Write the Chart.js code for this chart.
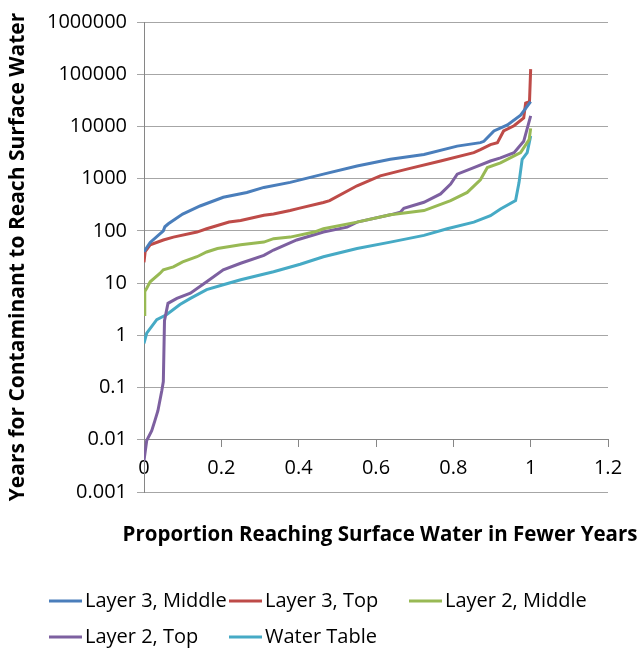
<!DOCTYPE html>
<html>
<head>
<meta charset="utf-8">
<script src="https://cdn.jsdelivr.net/npm/chart.js@4/dist/chart.umd.min.js"></script>
<style>
  html, body { margin: 0; padding: 0; background: #ffffff; }
  #wrap { width: 641px; height: 649px; }
</style>
</head>
<body>
<div id="wrap"><canvas id="c" width="641" height="649"></canvas></div>
<script>
// ---- Data ----
const seriesNames = ["Layer 3, Middle", "Layer 3, Top", "Layer 2, Middle", "Layer 2, Top", "Water Table"];
const seriesColors = ["#4A7EBB", "#BE4B48", "#98B954", "#7D60A0", "#46AAC5"];

const l3MiddleX = [0, 0.016, 0.05, 0.054, 0.063, 0.10, 0.145, 0.205, 0.266, 0.31, 0.378, 0.464, 0.551, 0.637, 0.724, 0.81, 0.87, 0.879, 0.905, 0.94, 0.974, 1.0];
const l3MiddleY = [40, 60, 100, 120, 137, 210, 300, 440, 545, 680, 850, 1220, 1750, 2350, 2900, 4200, 4900, 5200, 8200, 10700, 16500, 30000];

const l3TopX = [0, 0.003, 0.016, 0.05, 0.076, 0.137, 0.162, 0.22, 0.25, 0.31, 0.335, 0.378, 0.40, 0.464, 0.48, 0.551, 0.611, 0.68, 0.767, 0.853, 0.87, 0.896, 0.914, 0.93, 0.957, 0.982, 0.987, 0.997, 1.0];
const l3TopY = [25, 40, 54, 67, 76, 95, 110, 148, 158, 200, 211, 245, 270, 350, 380, 730, 1130, 1520, 2180, 3150, 3600, 4500, 4900, 8200, 10300, 14500, 28000, 30000, 125000];

const l2MiddleX = [0, 0.002, 0.007, 0.016, 0.041, 0.05, 0.076, 0.10, 0.137, 0.162, 0.19, 0.25, 0.31, 0.335, 0.378, 0.44, 0.464, 0.551, 0.637, 0.724, 0.793, 0.836, 0.87, 0.888, 0.922, 0.974, 0.996, 1.0];
const l2MiddleY = [2.5, 6.9, 8, 10.6, 15.3, 18, 20.5, 25.5, 32, 39.5, 46, 54.5, 61, 71, 76, 95, 110, 147, 203, 245, 380, 545, 950, 1630, 2000, 3150, 5600, 9200];

const l2TopX = [0, 0.007, 0.02, 0.028, 0.036, 0.046, 0.05, 0.053, 0.062, 0.085, 0.12, 0.162, 0.205, 0.25, 0.31, 0.335, 0.395, 0.464, 0.525, 0.551, 0.637, 0.663, 0.672, 0.724, 0.767, 0.793, 0.81, 0.853, 0.896, 0.922, 0.957, 0.982, 1.0];
const l2TopY = [0.004, 0.0097, 0.015, 0.023, 0.036, 0.087, 0.13, 1.9, 4.1, 5.1, 6.4, 10.6, 18, 24, 34, 43, 67, 95, 118, 147, 203, 228, 272, 353, 510, 790, 1220, 1630, 2180, 2500, 3150, 5200, 16000];

const waterTableX = [0, 0.007, 0.033, 0.059, 0.093, 0.12, 0.162, 0.205, 0.25, 0.335, 0.404, 0.464, 0.551, 0.637, 0.724, 0.784, 0.853, 0.896, 0.922, 0.961, 0.97, 0.978, 0.991, 1.0];
const waterTableY = [0.7, 1.1, 2.0, 2.5, 3.9, 5.1, 7.5, 9.3, 11.6, 16.5, 23, 32, 46, 61, 82, 110, 147, 195, 263, 380, 850, 2350, 3150, 6600];

const yTicks = [0.001, 0.01, 0.1, 1, 10, 100, 1000, 10000, 100000, 1000000];
const yTickLabels = ["0.001", "0.01", "0.1", "1", "10", "100", "1000", "10000", "100000", "1000000"];
const xTicks = [0, 0.2, 0.4, 0.6, 0.8, 1, 1.2];
const xTickLabels = ["0", "0.2", "0.4", "0.6", "0.8", "1", "1.2"];

const xTitle = "Proportion Reaching Surface Water in Fewer Years";
const yTitle = "Years for Contaminant to Reach Surface Water";

// ---- Build datasets ----
const allX = [l3MiddleX, l3TopX, l2MiddleX, l2TopX, waterTableX];
const allY = [l3MiddleY, l3TopY, l2MiddleY, l2TopY, waterTableY];
const datasets = seriesNames.map((name, s) => ({
  label: name,
  data: allX[s].map((x, i) => ({ x: x, y: allY[s][i] })),
  borderColor: seriesColors[s],
  backgroundColor: seriesColors[s],
  borderWidth: 3,
  pointRadius: 0,
  tension: 0,
  fill: false,
  xAxisID: 'x',
  yAxisID: 'y'
}));

const FONT = "'Open Sans', 'DejaVu Sans', sans-serif";
const PAD_BOTTOM = 90;
const AXIS_COLOR = '#868686';
const GRID_COLOR = '#a6a6a6';

// X-axis title (wider than the plot area, so drawn without width limit) and
// a legend laid out in columns, like the reference
const titleAndLegend = {
  id: 'titleAndLegend',
  afterDraw(chart) {
    const ctx = chart.ctx;
    const area = chart.chartArea;
    ctx.save();
    ctx.fillStyle = '#000000';
    ctx.font = "bold 20.5px " + FONT;
    ctx.textAlign = 'center';
    ctx.textBaseline = 'middle';
    ctx.fillText(xTitle, (area.left + area.right) / 2 + 4, area.bottom + 43);

    const cols = [49, 229, 409];
    const rows = [601, 637];
    const perRow = 3;
    ctx.font = "20px " + FONT;
    ctx.textAlign = 'left';
    chart.data.datasets.forEach((ds, i) => {
      const cx = cols[i % perRow];
      const cy = rows[Math.floor(i / perRow)];
      ctx.strokeStyle = ds.borderColor;
      ctx.lineWidth = 3;
      ctx.beginPath();
      ctx.moveTo(cx, cy);
      ctx.lineTo(cx + 33, cy);
      ctx.stroke();
      ctx.fillStyle = '#000000';
      ctx.fillText(ds.label, cx + 36, cy);
    });
    ctx.restore();
  }
};

new Chart(document.getElementById('c'), {
  type: 'line',
  data: { datasets: datasets },
  plugins: [titleAndLegend],
  options: {
    responsive: false,
    animation: false,
    devicePixelRatio: 1,
    layout: { padding: { left: 0, right: 33, top: 17, bottom: PAD_BOTTOM } },
    plugins: {
      legend: { display: false },
      tooltip: { enabled: false },
      title: { display: false }
    },
    scales: {
      x: {
        type: 'linear',
        position: 'bottom',
        min: 0,
        max: 1.2,
        ticks: { display: false },
        grid: { display: false },
        border: { display: false },
        title: { display: false },
        afterFit(scale) { scale.height = 649 - PAD_BOTTOM - 492; }
      },
      x2: {
        type: 'linear',
        axis: 'x',
        position: { y: 0.01 },
        min: 0,
        max: 1.2,
        afterBuildTicks(scale) { scale.ticks = xTicks.map(v => ({ value: v })); },
        ticks: {
          color: '#000000',
          font: { family: FONT, size: 20 },
          padding: 10,
          maxRotation: 0,
          autoSkip: false,
          callback: (v, i) => xTickLabels[i]
        },
        grid: { drawOnChartArea: false, drawTicks: true, tickLength: 7, color: AXIS_COLOR },
        border: { display: true, color: AXIS_COLOR, width: 1 }
      },
      y: {
        type: 'logarithmic',
        position: 'left',
        min: 0.001,
        max: 1000000,
        afterBuildTicks(scale) { scale.ticks = yTicks.map(v => ({ value: v })); },
        ticks: {
          color: '#000000',
          font: { family: FONT, size: 20 },
          padding: 10,
          autoSkip: false,
          callback: (v, i) => yTickLabels[i]
        },
        grid: { color: GRID_COLOR, lineWidth: 1, drawTicks: true, tickLength: 7 },
        border: { display: true, color: AXIS_COLOR, width: 1 },
        title: {
          display: true,
          text: yTitle,
          color: '#000000',
          font: { family: FONT, size: 21, weight: 'bold' },
          padding: { top: 5, bottom: 0 }
        },
        afterFit(scale) { scale.width = 144; }
      }
    }
  }
});
</script>
</body>
</html>
